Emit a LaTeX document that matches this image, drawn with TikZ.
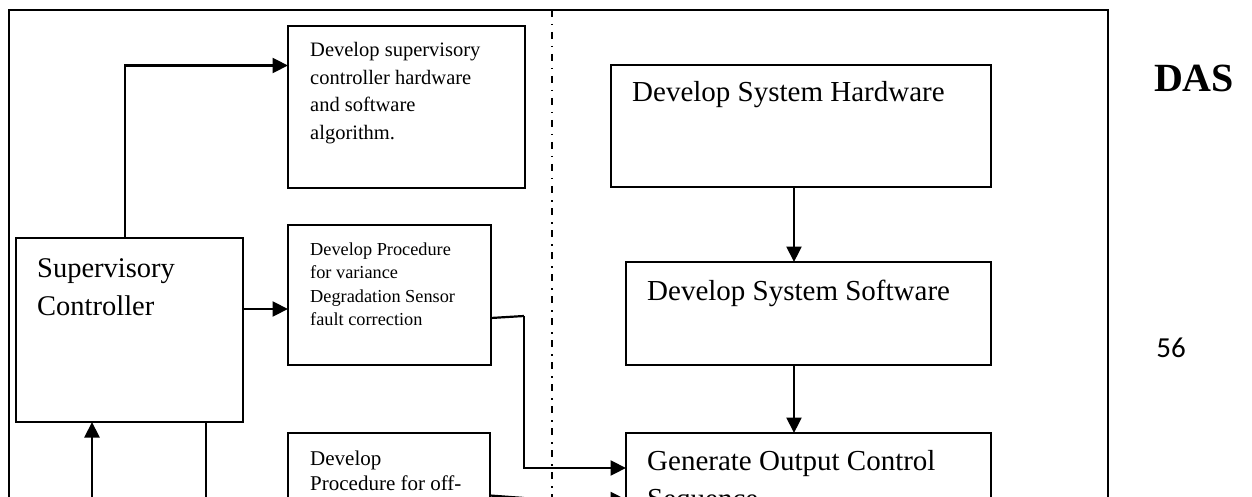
\documentclass[tikz,border=0pt]{standalone}
\usepackage{fontspec}
\setmainfont{Liberation Serif}
\newfontfamily\numfont{Carlito}
\usetikzlibrary{arrows.meta}
\begin{document}
\begin{tikzpicture}[x=1pt,y=-1pt,
  box/.style={draw, line width=2.2pt, anchor=north west, inner sep=0pt, outer sep=0pt},
  txt/.style={inner sep=0pt, anchor=base west, align=left},
  wire/.style={line width=2.2pt},
  arr/.style={wire, -{Triangle[length=15.5pt,width=15pt]}},
  divider/.style={line width=1.4pt, dash pattern=on 7pt off 7pt on 1.5pt off 6.5pt},
  fbig/.style={font=\fontsize{29}{38.5}\selectfont},
  fmid/.style={font=\fontsize{20.5}{27.5}\selectfont},
  fsmall/.style={font=\fontsize{18.3}{23.5}\selectfont},
  fbox3/.style={font=\fontsize{21}{25.5}\selectfont}]
\useasboundingbox (0,0) rectangle (1252,497);
\clip (0,0) rectangle (1252,497);

% outer frame and the dash-dot divider
\draw[line width=2.2pt] (9,600) -- (9,10) -- (1108,10) -- (1108,600);
\draw[divider] (552,10) -- (552,600);

% boxes
\node[box, minimum width=237pt, minimum height=162pt] (b1) at (288,26) {};
\node[box, minimum width=203pt, minimum height=140pt] (b2) at (288,225) {};
\node[box, minimum width=202pt, minimum height=140pt] (b3) at (288,433) {};
\node[box, minimum width=227pt, minimum height=184pt] (sc) at (16,238) {};
\node[box, minimum width=380pt, minimum height=122pt] (hw) at (611,65) {};
\node[box, minimum width=365pt, minimum height=103pt] (sw) at (626,262) {};
\node[box, minimum width=365pt, minimum height=140pt] (gen) at (626,433) {};

% box texts (each placed by the baseline of its last line)
\node[txt, fmid] (t1) at (310,139.5) {Develop supervisory\\controller hardware\\and software\\algorithm.};
\node[txt, fsmall] (t2) at (310,325.5) {Develop Procedure\\for variance\\Degradation Sensor\\fault correction};
\node[txt, fbox3] (t3) at (310,490.5) {Develop\\Procedure for off-};
\node[txt, font=\fontsize{28.5}{38.5}\selectfont] (tsc) at (37,315.5) {Supervisory\\Controller};
\node[txt, fbig] (thw) at (632,102) {Develop System Hardware};
\node[txt, fbig] (tsw) at (647,300) {Develop System Software};
\node[txt, fbig] (tgen) at (647,508.5) {Generate Output Control\\Sequence};

% side labels
\node[inner sep=0pt, anchor=base, font=\fontsize{40}{40}\selectfont\bfseries] (das) at (1194,92) {DAS};
\node[inner sep=0pt, anchor=base, font=\numfont\fontsize{29}{29}\selectfont] (pg) at (1171,357) {56};

% helper points
\coordinate (k1) at (524,316);
\coordinate (k2) at (524,498);
\coordinate (u1) at (92,540);
\coordinate (u2) at (206,540);

% connectors
\draw[arr] ([xshift=-4.5pt]sc.north) |- ([yshift=41.5pt]b1.west);
\draw[arr] ([yshift=21pt]sc.east) -- ([yshift=21pt]sc.east -| b2.west);
\draw[wire] ([yshift=-23pt]b2.east) -- (k1);
\draw[arr] (k1) |- ([yshift=35pt]gen.west);
\draw[arr] ([xshift=-7pt]hw.south) -- ([xshift=-7pt]hw.south |- sw.north);
\draw[arr] ([xshift=-14.5pt]sw.south) -- ([xshift=-14.5pt]sw.south |- gen.north);
\draw[arr] (u1) -- (u1 |- sc.south);
\draw[wire] (u2 |- sc.south) -- (u2);
\draw[wire] ([yshift=7.5pt]b3.east) -- (k2);
\draw[arr] (k2) |- ([yshift=3.5pt]gen.west);
\end{tikzpicture}
\end{document}
